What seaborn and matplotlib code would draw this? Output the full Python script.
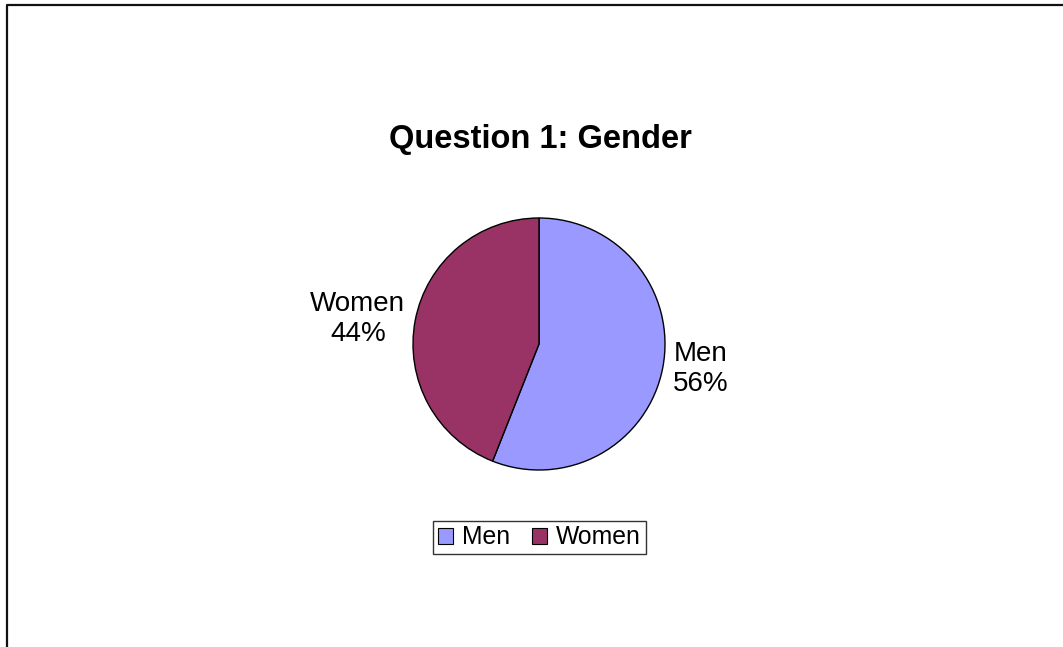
import matplotlib
matplotlib.use("Agg")
from matplotlib import pyplot as plt
from matplotlib.lines import Line2D
import seaborn as sns

categories = ["Men", "Women"]
shares = [56, 44]
colors = ["#9999FF", "#993366"]
title = "Question 1: Gender"

sns.set_theme(style="white")
plt.rcParams["font.family"] = ["Liberation Sans", "DejaVu Sans"]
plt.rcParams["text.color"] = "black"

W, H = 1063, 647
fig = plt.figure(figsize=(W / 100, H / 100), dpi=100)

# pie centre (539, 344) px, radius 126 px
cx, cy, r = 539, 344, 126
ax = fig.add_axes([(cx - r) / W, (H - cy - r) / H, 2 * r / W, 2 * r / H])

labels = [f"{c}\n{v}%" for c, v in zip(categories, shares)]
wedges, texts = ax.pie(shares, colors=colors, startangle=90, counterclock=False,
                       labels=labels, labeldistance=1.08,
                       wedgeprops=dict(edgecolor="black", linewidth=1),
                       textprops=dict(fontsize=20, color="black", multialignment="center"))
ax.set_xlim(-1, 1)
ax.set_ylim(-1, 1)
ax.set_aspect("equal")
ax.axis("off")

fig.text(540 / W, 1 - 148 / H, title, ha="center", va="baseline",
         fontsize=23.5, fontweight="bold", color="black")

leg = fig.legend(wedges, categories, loc="center", bbox_to_anchor=(539.5 / W, 1 - 537.5 / H),
                 ncol=2, fontsize=17.8, frameon=True, fancybox=False, handlelength=0.62,
                 handleheight=0.62, handletextpad=0.37, columnspacing=0.85,
                 borderpad=0.2, borderaxespad=0)
leg.get_frame().set_edgecolor("black")
leg.get_frame().set_linewidth(1)
for h in leg.legend_handles:
    h.set_edgecolor("black")
    h.set_linewidth(0.8)

# outer chart border (top and left visible)
fig.add_artist(Line2D([6.5 / W, 6.5 / W, 1], [0, 1 - 4.5 / H, 1 - 4.5 / H],
                      transform=fig.transFigure, color="#111111", linewidth=1.6))

fig.savefig("out.png", dpi=100)
